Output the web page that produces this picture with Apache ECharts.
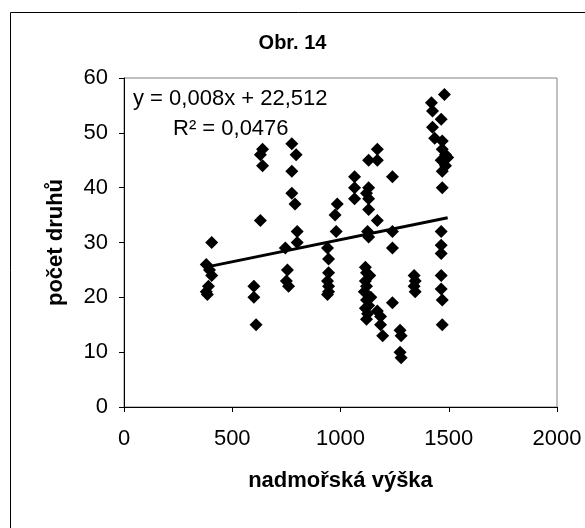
<!DOCTYPE html>
<html>
<head>
<meta charset="utf-8">
<title>Obr. 14</title>
<script src="https://cdn.jsdelivr.net/npm/echarts@6/dist/echarts.min.js"></script>
<style>
  html, body { margin: 0; padding: 0; background: #fff; }
  #chart { width: 585px; height: 528px; }
</style>
</head>
<body>
<div id="chart"></div>
<script>
// nadmořská výška (x) a počet druhů (y)
const points = [
  [380, 26], [395, 25], [405, 24], [390, 22], [380, 21], [385, 20.5], [405, 30],
  [600, 22], [600, 20], [610, 15],
  [640, 47], [630, 46], [640, 44], [630, 34],
  [775, 48], [795, 46], [775, 43], [775, 39], [790, 37], [800, 32], [800, 30],
  [745, 29], [755, 25], [750, 23], [760, 22],
  [940, 29], [945, 27], [945, 24.5], [940, 23], [945, 22], [945, 21], [940, 20.5],
  [985, 37], [975, 35], [980, 32],
  [1065, 42], [1065, 40], [1065, 38], [1130, 40], [1120, 39], [1130, 38], [1130, 36],
  [1130, 45], [1170, 47], [1170, 45], [1170, 34], [1125, 32], [1130, 31],
  [1240, 42], [1240, 32], [1240, 29],
  [1115, 25.5], [1120, 24.5], [1115, 23], [1120, 22], [1110, 21], [1120, 19.5],
  [1115, 18], [1125, 17], [1120, 16], [1135, 24], [1140, 20], [1130, 18.5],
  [1170, 17.5], [1185, 16.5], [1185, 15], [1195, 13], [1240, 19],
  [1275, 14], [1280, 13], [1275, 10], [1280, 9],
  [1340, 24], [1345, 23], [1340, 22], [1345, 21],
  [1465, 32], [1465, 29.5], [1465, 28], [1465, 24], [1465, 21.5], [1470, 19.5], [1470, 15],
  [1480, 57], [1420, 55.5], [1425, 54], [1465, 52.5], [1425, 51], [1435, 49],
  [1470, 48.5], [1470, 47], [1485, 46], [1495, 45.5], [1465, 45], [1485, 44],
  [1470, 43], [1470, 40]
]

// lineární trend (konce čáry)
const trend = [[390, 25.6], [1495, 34.5]]

const xTicks = { min: 0, max: 2000, step: 500 }
const yTicks = { min: 0, max: 60, step: 10 }

const equation = 'y = 0,008x + 22,512'
const rSquared = 'R² = 0,0476'

const font = 'Arial, "Liberation Sans", sans-serif'

const chart = echarts.init(document.getElementById('chart'))

chart.setOption({
  backgroundColor: '#fff',
  animation: false,
  title: {
    text: 'Obr. 14',
    left: 'center',
    top: 28,
    textStyle: { fontFamily: font, fontSize: 20, fontWeight: 'bold', color: '#000' }
  },
  grid: {
    left: 124,
    right: 28,
    top: 78,
    bottom: 121,
    show: true,
    borderColor: '#808080',
    borderWidth: 1
  },
  xAxis: {
    type: 'value',
    min: xTicks.min,
    max: xTicks.max,
    interval: xTicks.step,
    name: 'nadmořská výška',
    nameLocation: 'middle',
    nameGap: 63,
    nameTextStyle: { fontFamily: font, fontSize: 22, fontWeight: 'bold', color: '#000' },
    axisLine: { show: true, lineStyle: { color: '#000', width: 1 } },
    axisTick: { show: true, length: 5, lineStyle: { color: '#000' } },
    axisLabel: { fontFamily: font, fontSize: 22, color: '#000', margin: 21, formatter: v => String(v) },
    splitLine: { show: false }
  },
  yAxis: {
    type: 'value',
    min: yTicks.min,
    max: yTicks.max,
    interval: yTicks.step,
    name: 'počet druhů',
    nameLocation: 'middle',
    nameGap: 57,
    nameTextStyle: { fontFamily: font, fontSize: 22, fontWeight: 'bold', color: '#000' },
    axisLine: { show: true, lineStyle: { color: '#000', width: 1 } },
    axisTick: { show: true, length: 5, lineStyle: { color: '#000' } },
    axisLabel: { fontFamily: font, fontSize: 22, color: '#000', margin: 16 },
    splitLine: { show: false }
  },
  graphic: [
    {
      type: 'rect',
      silent: true,
      shape: { x: 10.5, y: 12.5, width: 700, height: 700 },
      style: { fill: 'none', stroke: '#000', lineWidth: 1 }
    },
    {
      type: 'text',
      left: 133,
      top: 88,
      style: { text: equation, fontFamily: font, fontSize: 22, fill: '#000' }
    },
    {
      type: 'text',
      left: 173,
      top: 118,
      style: { text: rSquared, fontFamily: font, fontSize: 22, fill: '#000' }
    }
  ],
  series: [
    {
      type: 'scatter',
      symbol: 'diamond',
      symbolSize: 13,
      itemStyle: { color: '#000', opacity: 1 },
      data: points,
      z: 2
    },
    {
      type: 'line',
      data: trend,
      symbol: 'none',
      lineStyle: { color: '#000', width: 3 },
      z: 3
    }
  ]
})
</script>
</body>
</html>
